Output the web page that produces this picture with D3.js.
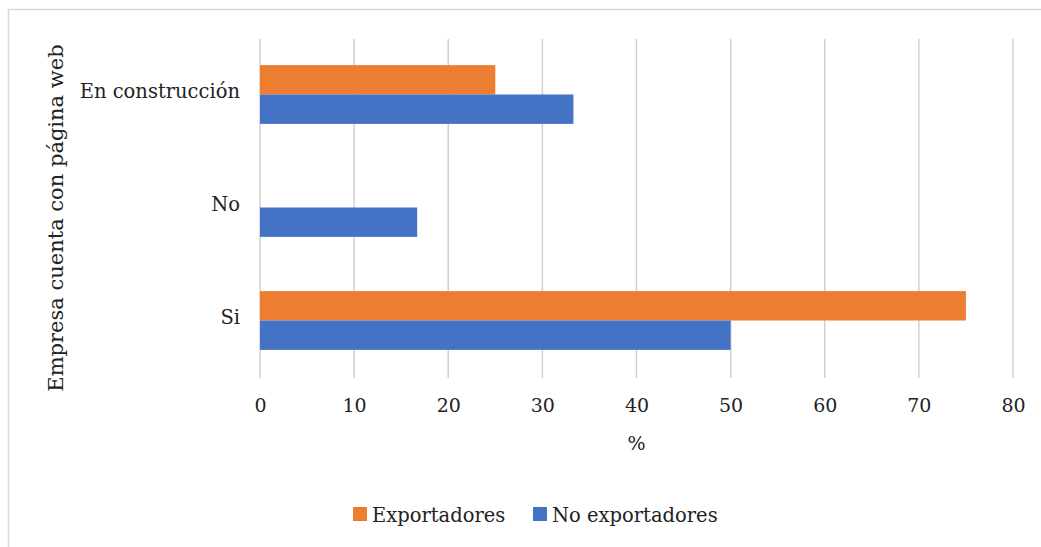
<!DOCTYPE html>
<html><head><meta charset="utf-8">
<script src="https://cdn.jsdelivr.net/npm/d3@7"></script>
<style>body{margin:0;background:#fff}svg{display:block}</style>
</head><body><svg id="c" width="1041" height="547"></svg>
<script>
const categories = ["En construcción", "No", "Si"];
const seriesNames = ["Exportadores", "No exportadores"];
const exportadores = [25, 0, 75];
const noExportadores = [33.3, 16.7, 50];
const xTicks = [0, 10, 20, 30, 40, 50, 60, 70, 80];
const colors = ["#ED7D31", "#4472C4"];
const font = "'DejaVu Serif', 'Liberation Serif', serif";

const svg = d3.select("#c");
svg.append("rect").attr("x", 8.5).attr("y", 9.5).attr("width", 1100).attr("height", 600)
  .attr("fill", "#fff").attr("stroke", "#d9d9d9").attr("stroke-width", 1.5);

const pL = 260, pR = 1013, pT = 38, pB = 377;
const x = d3.scaleLinear().domain([0, 80]).range([pL, pR]);
const y = d3.scaleBand().domain(categories).range([pT, pB]).paddingInner(0.48).paddingOuter(0.24);
const sub = d3.scaleBand().domain(seriesNames).range([0, y.bandwidth()]);

svg.append("g").selectAll("line").data(xTicks).join("line")
  .attr("x1", d => x(d)).attr("x2", d => x(d)).attr("y1", pT + 1).attr("y2", pB + 1)
  .attr("stroke", "#d0d0d0").attr("stroke-width", 1.5);

const data = categories.map((c, i) => ({c, vals: [exportadores[i], noExportadores[i]]}));
svg.append("g").selectAll("g").data(data).join("g")
  .attr("transform", d => `translate(0,${y(d.c)})`)
  .selectAll("rect").data(d => d.vals.map((v, j) => ({v, s: seriesNames[j], j})))
  .join("rect")
  .attr("x", x(0)).attr("y", d => sub(d.s)).attr("height", sub.bandwidth())
  .attr("width", d => x(d.v) - x(0)).attr("fill", d => colors[d.j]);

const xAxis = svg.append("g").attr("transform", `translate(0,${pB + 1})`)
  .call(d3.axisBottom(x).tickValues(xTicks).tickSize(0).tickPadding(21));
xAxis.select(".domain").remove();
xAxis.selectAll("text").attr("font-family", font).attr("font-size", 19).attr("fill", "#222");

const yAxis = svg.append("g").attr("transform", `translate(${pL},0)`)
  .call(d3.axisLeft(y).tickSize(0).tickPadding(20));
yAxis.select(".domain").remove();
yAxis.selectAll("text").attr("font-family", font).attr("font-size", 19.5).attr("fill", "#222")
  .attr("dy", "0.2em");

svg.append("text").attr("x", (pL + pR) / 2).attr("y", 450).attr("text-anchor", "middle")
  .attr("font-family", font).attr("font-size", 19).attr("fill", "#222").text("%");

svg.append("text").attr("transform", `translate(63,218) rotate(-90)`)
  .attr("text-anchor", "middle").attr("font-family", font).attr("font-size", 21).attr("fill", "#222")
  .text("Empresa cuenta con página web");

const leg = svg.append("g");
const legX = [353, 533];
seriesNames.forEach((s, i) => {
  leg.append("rect").attr("x", legX[i]).attr("y", 507).attr("width", 14).attr("height", 14).attr("fill", colors[i]);
  leg.append("text").attr("x", legX[i] + 19).attr("y", 522).attr("font-family", font).attr("font-size", 19.5)
    .attr("fill", "#222").text(s);
});
</script></body></html>
